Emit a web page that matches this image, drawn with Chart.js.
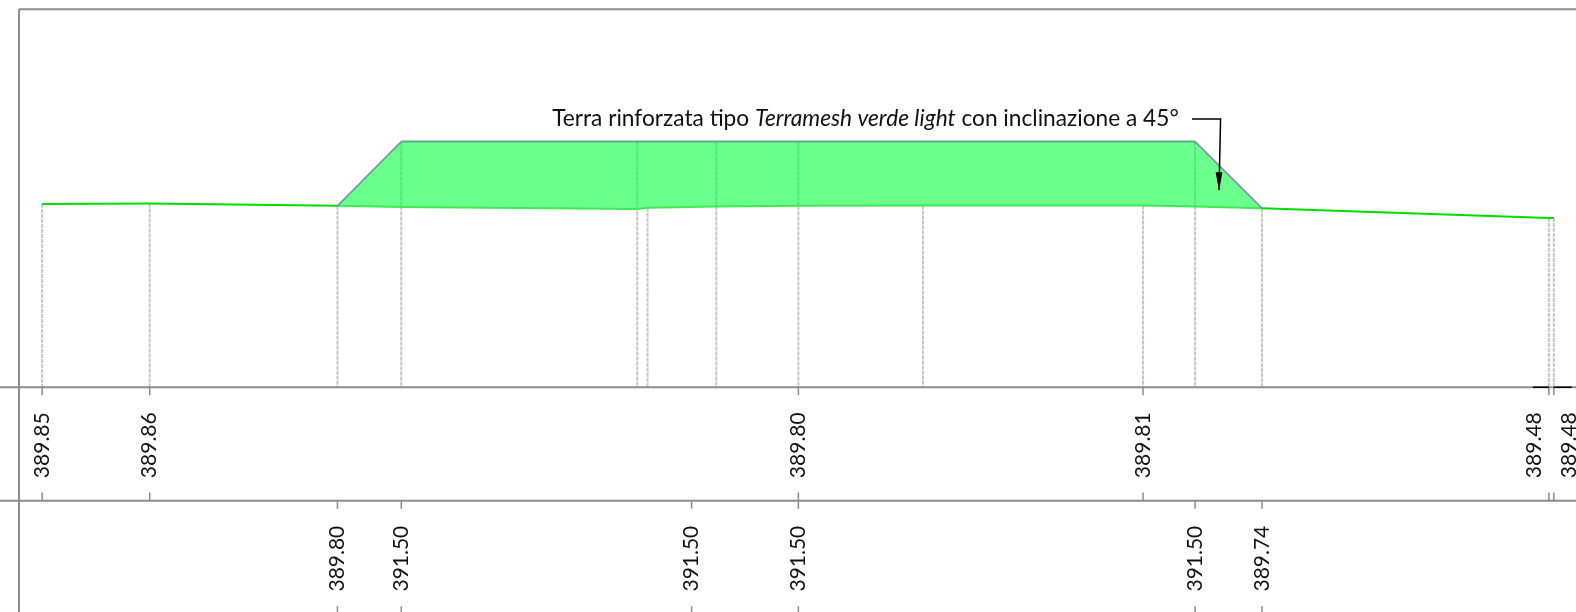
<!DOCTYPE html>
<html>
<head>
<meta charset="utf-8">
<title>Sezione</title>
<style>
  html, body { margin: 0; padding: 0; background: #fff; }
  #wrap { width: 1576px; height: 612px; }
</style>
<script src="https://cdn.jsdelivr.net/npm/chart.js@4/dist/chart.umd.min.js"></script>
</head>
<body>
<div id="wrap"><canvas id="chart"></canvas></div>
<script>
// section stations (m) and elevations (m)
const stations   = [1.11, 3.94, 8.88, 10.56, 16.77, 17.04, 18.85, 21.01, 24.29, 30.08, 31.45, 33.21, 40.76, 40.89];
const groundElev = [389.85, 389.86, 389.80, 389.77, 389.72, 389.75, 389.78, 389.80, 389.81, 389.81, 389.78, 389.74, 389.48, 389.48];
const guideTop   = [389.85, 389.86, 389.80, 391.50, 391.50, 389.75, 391.50, 391.50, 389.81, 389.81, 391.50, 389.74, 389.48, 389.48];

const embankX = [8.88, 10.56, 31.45, 33.21];
const embankY = [389.80, 391.50, 391.50, 389.74];

// the two table rows
const row1TickX   = [1.11, 3.94, 21.01, 30.08, 40.76, 40.89];
const row1LabelX  = [1.11, 3.94, 21.01, 30.08, 40.37, 41.29];
const row1Labels  = ["389.85", "389.86", "389.80", "389.81", "389.48", "389.48"];
const row2TickX   = [8.88, 10.56, 18.2, 21.01, 31.45, 33.21];
const row2Labels  = ["389.80", "391.50", "391.50", "391.50", "391.50", "389.74"];

// horizontal table lines
const frameTop = 395, datum = 385, row1Bottom = 382, row2Bottom = 379;
const frameLeft = 0.5;

// leader and arrowhead of the note
const leaderX = [31.37, 32.12, 32.08];
const leaderY = [392.10, 392.10, 390.22];
const arrowX  = [31.99, 32.17, 32.08];
const arrowY  = [390.69, 390.69, 390.2];
const blackTickX = [40.34, 40.76, 40.89, 41.36];

const noteParts = [
  { text: "Terra rinforzata tipo ", italic: false },
  { text: "Terramesh verde light", italic: true },
  { text: " con inclinazione a 45°", italic: false }
];
const noteX = 14.53, noteY = 392.1;

const xMin = 0, xMax = 1576 / 38;
const yMax = 395.246, yMin = yMax - 612 / 37.8;

const grey = "#8c8c8c";

const pts = (xs, ys) => xs.map((x, i) => ({ x, y: ys[i] }));

// several segments in one dataset, split by empty points
function segments(list) {
  const out = [];
  list.forEach(s => { out.push(s[0], s[1], { x: NaN, y: NaN }); });
  return out;
}

const base = { showLine: true, pointRadius: 0, pointHoverRadius: 0, fill: false, spanGaps: false };
const groundPts = pts(stations, groundElev);

const datasets = [
  { ...base, label: "guide", order: 7, borderColor: "#c6c6c6", borderWidth: 2, borderDash: [4, 1],
    data: segments(stations.map((x, i) => [{ x, y: guideTop[i] }, { x, y: datum }])) },
  { ...base, label: "table", order: 6, borderColor: grey, borderWidth: 2,
    data: segments([
      [{ x: frameLeft, y: frameTop }, { x: xMax, y: frameTop }],
      [{ x: xMin, y: datum }, { x: xMax, y: datum }],
      [{ x: xMin, y: row1Bottom }, { x: xMax, y: row1Bottom }],
      [{ x: frameLeft, y: frameTop }, { x: frameLeft, y: yMin }]
    ]) },
  { ...base, label: "ticks", order: 6, borderColor: grey, borderWidth: 1.5,
    data: segments([
      ...row1TickX.map(x => [{ x, y: datum }, { x, y: datum - 0.21 }]),
      ...row1TickX.map(x => [{ x, y: row1Bottom + 0.22 }, { x, y: row1Bottom }]),
      ...row2TickX.map(x => [{ x, y: row1Bottom }, { x, y: row1Bottom - 0.21 }]),
      ...row2TickX.map(x => [{ x, y: row2Bottom + 0.21 }, { x, y: row2Bottom }])
    ]) },
  { ...base, label: "ground left", order: 5, borderColor: "#00de00", borderWidth: 2,
    data: groundPts.slice(0, 3) },
  { ...base, label: "ground right", order: 5, borderColor: "#00de00", borderWidth: 2,
    data: groundPts.slice(11) },
  { ...base, label: "embankment", order: 4, borderWidth: 0, fill: "shape",
    backgroundColor: "rgba(0,255,57,0.58)",
    data: pts(embankX, embankY).concat(groundPts.slice(2, 12).reverse()) },
  { ...base, label: "ground under", order: 3, borderColor: "#3cea52", borderWidth: 2,
    data: groundPts.slice(2, 12) },
  { ...base, label: "embankment top", order: 3, borderColor: "rgba(80,165,130,0.9)", borderWidth: 2,
    data: pts(embankX.slice(1, 3), embankY.slice(1, 3)) },
  { ...base, label: "embankment slopes", order: 2, borderColor: "rgba(110,125,175,0.85)", borderWidth: 1.5,
    data: segments([
      pts(embankX.slice(0, 2), embankY.slice(0, 2)),
      pts(embankX.slice(2, 4), embankY.slice(2, 4))
    ]) },
  { ...base, label: "leader", order: 1, borderColor: "#000", borderWidth: 1.5, data: pts(leaderX, leaderY) },
  { ...base, label: "arrow", order: 1, borderWidth: 0, fill: "shape", backgroundColor: "#000",
    data: pts(arrowX, arrowY) },
  { ...base, label: "datum mark", order: 1, borderColor: "#000", borderWidth: 1.5,
    data: segments([
      [{ x: blackTickX[0], y: datum }, { x: blackTickX[1], y: datum }],
      [{ x: blackTickX[2], y: datum }, { x: blackTickX[3], y: datum }]
    ]) }
];

// label rows are axes placed on the table lines
function rowAxis(yValue, xs, labels, padding) {
  return {
    type: "linear",
    axis: "x",
    min: xMin,
    max: xMax,
    position: { y: yValue },
    border: { display: false },
    grid: { display: false, drawTicks: false },
    afterBuildTicks: scale => { scale.ticks = xs.map(v => ({ value: v })); },
    // the last label runs off the page, it must not shrink the plot
    afterFit: scale => { scale.paddingLeft = 0; scale.paddingRight = 0; },
    ticks: {
      autoSkip: false,
      minRotation: 90,
      maxRotation: 90,
      padding,
      color: "#111",
      font: { family: "Lato", size: 21 },
      callback: value => labels[xs.indexOf(value)]
    }
  };
}

const notePlugin = {
  id: "note",
  afterDatasetsDraw(chart) {
    const c = chart.ctx;
    let x = chart.scales.x.getPixelForValue(noteX);
    const y = chart.scales.y.getPixelForValue(noteY);
    c.save();
    c.fillStyle = "#111";
    c.textBaseline = "middle";
    noteParts.forEach(p => {
      c.font = (p.italic ? "italic " : "") + "22.7px Lato";
      c.fillText(p.text, x, y);
      x += c.measureText(p.text).width;
    });
    c.restore();
  }
};

new Chart(document.getElementById("chart"), {
  type: "scatter",
  data: { datasets },
  plugins: [notePlugin],
  options: {
    responsive: true,
    maintainAspectRatio: false,
    animation: false,
    layout: { padding: 0 },
    plugins: { legend: { display: false }, tooltip: { enabled: false } },
    scales: {
      x: { type: "linear", min: xMin, max: xMax, display: false },
      y: { type: "linear", min: yMin, max: yMax, display: false },
      xRow1: rowAxis(datum, row1LabelX, row1Labels, 25),
      xRow2: rowAxis(row1Bottom, row2TickX, row2Labels, 25)
    }
  }
});
</script>
</body>
</html>
